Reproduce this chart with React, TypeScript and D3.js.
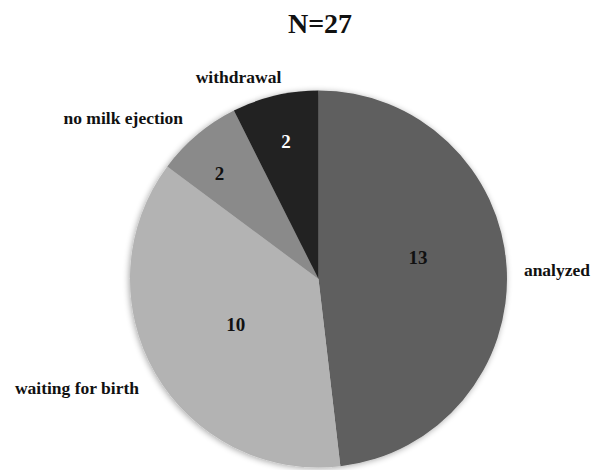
import React from "react";
import * as d3 from "d3";

const categories = ["analyzed", "waiting for birth", "no milk ejection", "withdrawal"];
const values = [13, 10, 2, 2];
const colors = ["#5e5e5e", "#b3b3b3", "#8a8a8a", "#222222"];
const valueColors = ["#111111", "#111111", "#111111", "#ffffff"];
const title = "N=27";

// label placement tweaks (radius fraction, angle offset in degrees)
const valueLabelRadius = [0.54, 0.5, 0.77, 0.75];
const valueLabelAngleOffset = [-9, 1.5, -3, 0];
// outer category label positions (radius fraction, angle deg from top clockwise)
const outerLabelPos: [number, number][] = [
  [1.266, 87.8],
  [1.406, 245.7],
  [1.342, 309.5],
  [1.153, 338.4],
];

export default function App() {
  const W = 599;
  const H = 470;
  const cx = 318.5;
  const cy = 279;
  const r = 188.5;
  const font = "'Liberation Serif', 'Times New Roman', Times, serif";

  const pie = d3.pie<number>().sort(null).value((d) => d);
  const arcs = pie(values);
  const arc = d3.arc<d3.PieArcDatum<number>>().innerRadius(0).outerRadius(r);

  const polar = (rad: number, deg: number) => {
    const a = (deg * Math.PI) / 180;
    return [rad * Math.sin(a), -rad * Math.cos(a)];
  };

  return (
    <svg width={W} height={H} style={{ position: "absolute", left: 0, top: 0 }}>
      <defs>
        <filter id="sh" x="-20%" y="-20%" width="140%" height="140%">
          <feGaussianBlur in="SourceAlpha" stdDeviation="3" />
          <feOffset dx="-1" dy="1" result="b" />
          <feComponentTransfer>
            <feFuncA type="linear" slope="0.35" />
          </feComponentTransfer>
          <feMerge>
            <feMergeNode />
            <feMergeNode in="SourceGraphic" />
          </feMerge>
        </filter>
      </defs>
      <rect width={W} height={H} fill="#ffffff" />
      <text
        x={320}
        y={33}
        textAnchor="middle"
        style={{ fontFamily: font, fontWeight: "bold", fontSize: 28 }}
        fill="#111"
      >
        {title}
      </text>
      <g transform={`translate(${cx},${cy})`}>
        <g filter="url(#sh)">
          {arcs.map((a, i) => (
            <path key={i} d={arc(a) || ""} fill={colors[i]} />
          ))}
        </g>
        {arcs.map((a, i) => {
          const mid = ((a.startAngle + a.endAngle) / 2) * (180 / Math.PI) + valueLabelAngleOffset[i];
          const [x, y] = polar(r * valueLabelRadius[i], mid);
          return (
            <text
              key={"v" + i}
              x={x}
              y={y}
              dy="0.35em"
              textAnchor="middle"
              style={{ fontFamily: font, fontWeight: "bold", fontSize: 19 }}
              fill={valueColors[i]}
            >
              {values[i]}
            </text>
          );
        })}
        {categories.map((c, i) => {
          const [rf, deg] = outerLabelPos[i];
          const [x, y] = polar(r * rf, deg);
          return (
            <text
              key={"c" + i}
              x={x}
              y={y}
              dy="0.35em"
              textAnchor="middle"
              style={{ fontFamily: font, fontWeight: "bold", fontSize: 17.5 }}
              fill="#111"
            >
              {c}
            </text>
          );
        })}
      </g>
    </svg>
  );
}
